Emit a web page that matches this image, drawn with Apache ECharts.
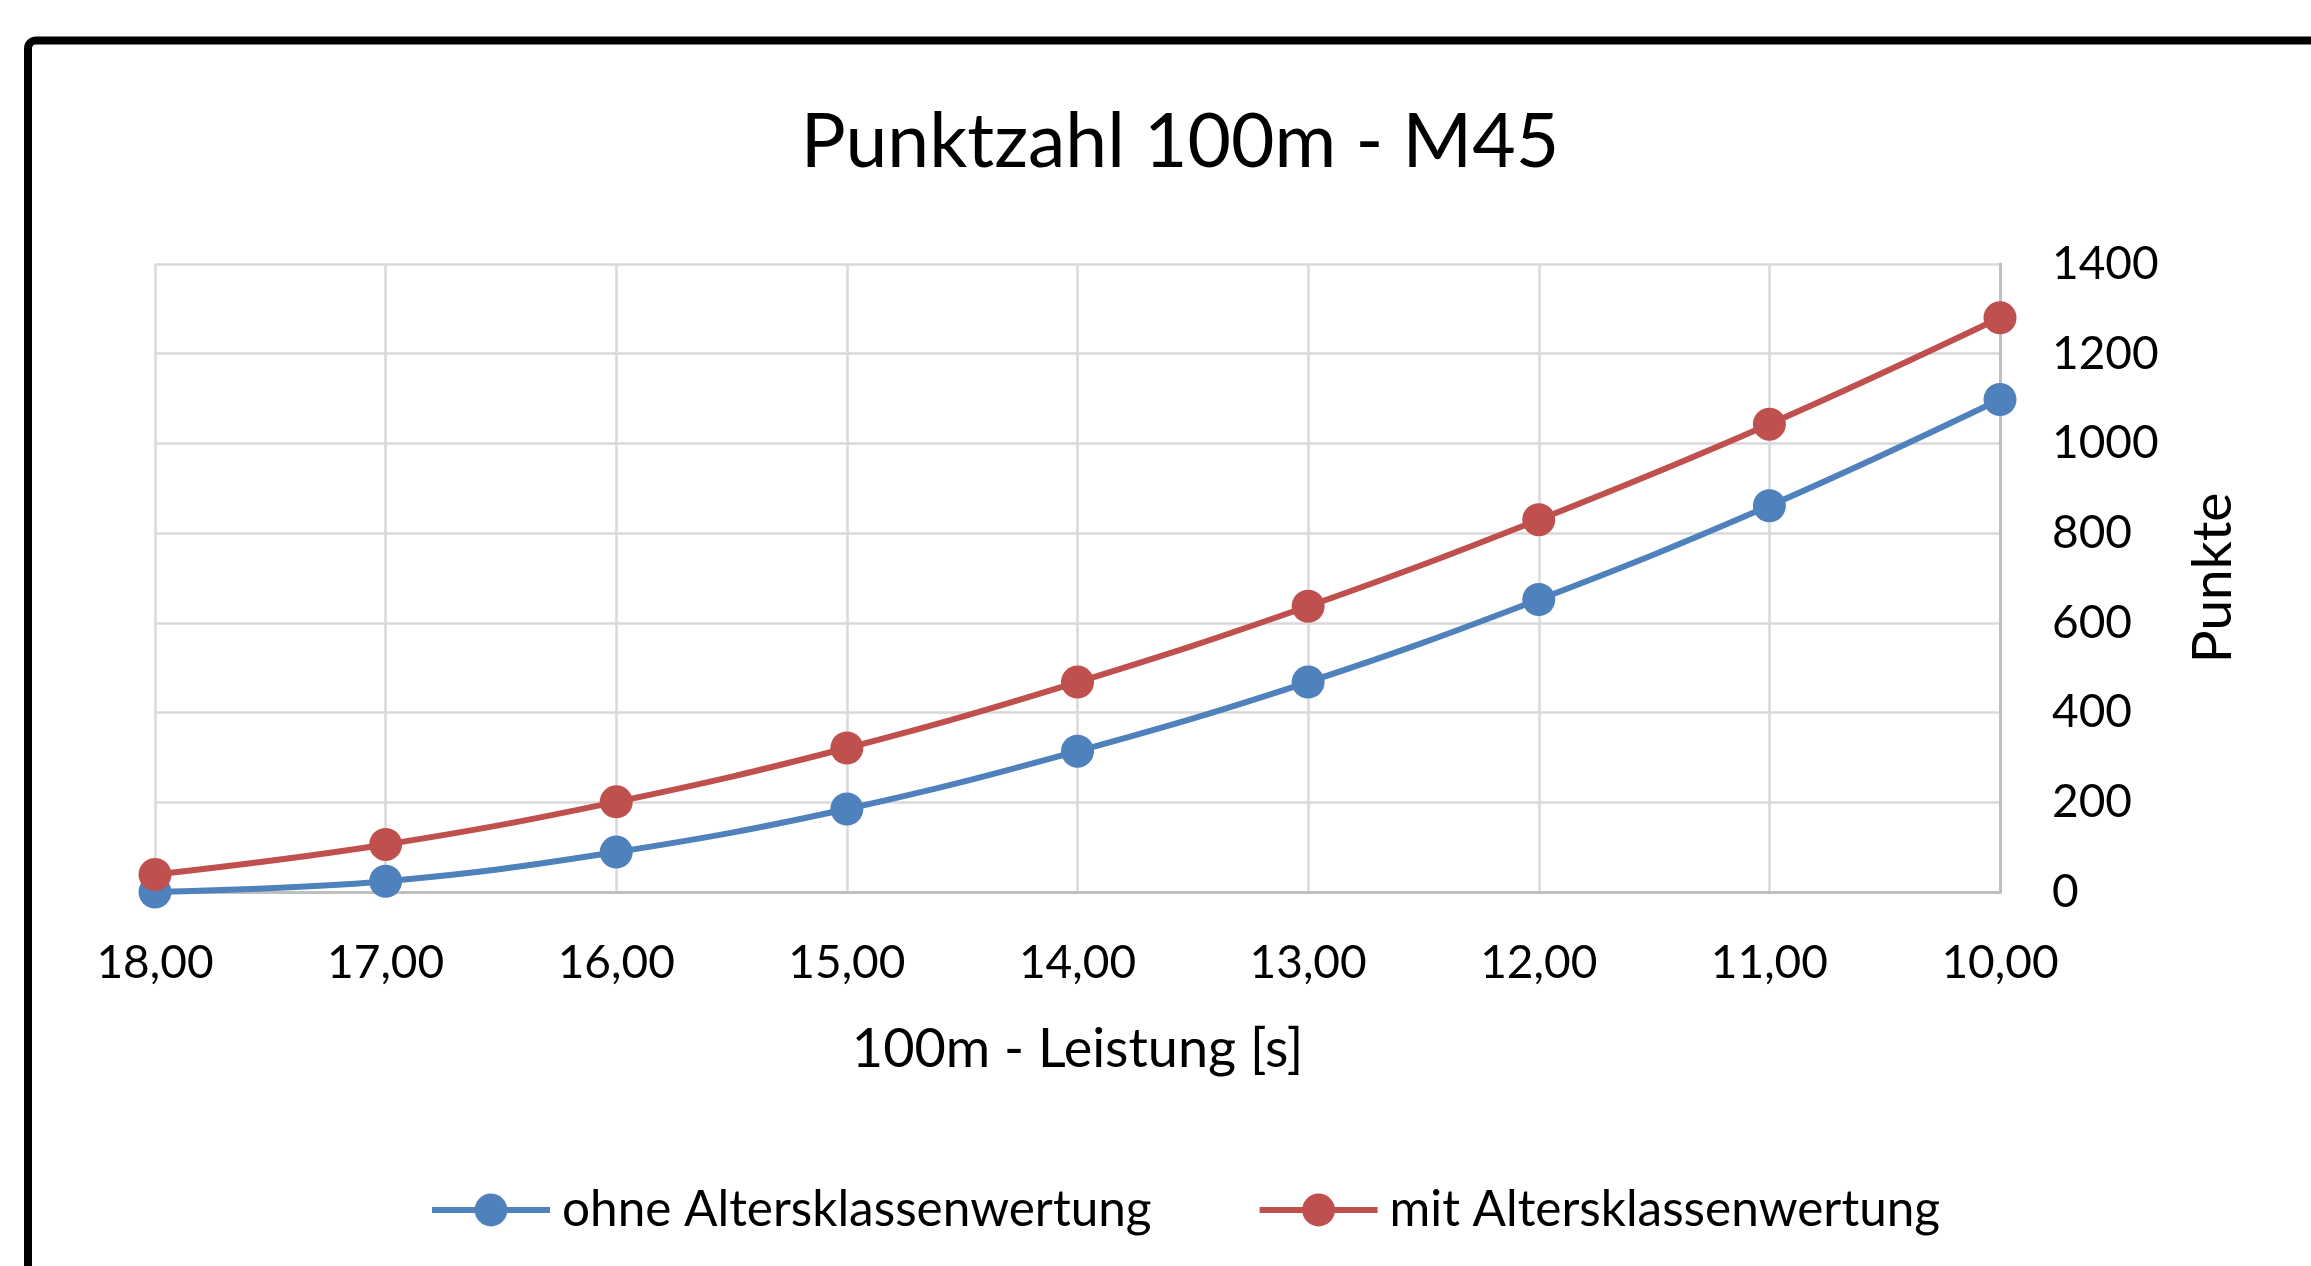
<!DOCTYPE html>
<html>
<head>
<meta charset="utf-8">
<script src="https://cdn.jsdelivr.net/npm/echarts@6/dist/echarts.min.js"></script>
<style>
html,body{margin:0;padding:0;background:#fff;overflow:hidden;}
#chart{width:2311px;height:1266px;}
</style>
</head>
<body>
<div id="chart"></div>
<script>
const categories = ['18,00','17,00','16,00','15,00','14,00','13,00','12,00','11,00','10,00'];
const ohneValues = [0, 24, 89, 185, 314, 468, 652, 861, 1098];
const mitValues = [39, 106, 201, 321, 468, 637, 830, 1043, 1280];
const seriesNames = ['ohne Altersklassenwertung', 'mit Altersklassenwertung'];
const titleText = 'Punktzahl 100m - M45';
const xAxisName = '100m - Leistung [s]';
const yAxisName = 'Punkte';

const FONT = 'Lato';
const chart = echarts.init(document.getElementById('chart'), null, {renderer: 'canvas'});
chart.setOption({
  backgroundColor: '#ffffff',
  animation: false,
  graphic: [{
    type: 'rect',
    shape: {x: 28, y: 40.5, width: 2500, height: 1500, r: 8},
    style: {fill: 'none', stroke: '#000000', lineWidth: 8},
    silent: true
  }],
  title: {
    text: titleText,
    left: 1175,
    textAlign: 'center',
    top: 100,
    textStyle: {fontFamily: FONT, fontSize: 75, fontWeight: 'normal', color: '#000'}
  },
  legend: {
    left: 424,
    top: 1180,
    itemWidth: 118,
    itemHeight: 41,
    itemGap: 105,
    lineStyle: {width: 6},
    textStyle: {fontFamily: FONT, fontSize: 49.5, color: '#000', padding: [0, 0, 0, 7]},
    data: seriesNames
  },
  grid: {left: 155, right: 311, top: 264, bottom: 374, containLabel: false},
  xAxis: {
    type: 'category',
    data: categories,
    boundaryGap: false,
    name: xAxisName,
    nameLocation: 'middle',
    nameGap: 131,
    nameTextStyle: {fontFamily: FONT, fontSize: 54, color: '#000'},
    axisLine: {lineStyle: {color: '#bfbfbf', width: 3}},
    axisTick: {show: false},
    axisLabel: {fontFamily: FONT, fontSize: 46, color: '#000', margin: 48},
    splitLine: {show: true, lineStyle: {color: '#d9d9d9', width: 2.5}}
  },
  yAxis: {
    type: 'value',
    position: 'right',
    min: 0,
    max: 1400,
    interval: 200,
    name: yAxisName,
    nameLocation: 'middle',
    nameRotate: 90,
    nameGap: 186,
    nameTextStyle: {fontFamily: FONT, fontSize: 55, color: '#000'},
    axisLine: {show: true, lineStyle: {color: '#bfbfbf', width: 3}},
    axisTick: {show: false},
    axisLabel: {fontFamily: FONT, fontSize: 46, color: '#000', margin: 52, formatter: function (v) { return String(v); }},
    splitLine: {show: true, lineStyle: {color: '#d9d9d9', width: 2.5}}
  },
  series: [
    {
      name: seriesNames[0],
      type: 'line',
      data: ohneValues,
      smooth: 0.4,
      clip: false,
      symbol: 'circle',
      symbolSize: 33,
      lineStyle: {color: '#4F81BD', width: 6},
      itemStyle: {color: '#4F81BD'}
    },
    {
      name: seriesNames[1],
      type: 'line',
      data: mitValues,
      smooth: 0.4,
      clip: false,
      symbol: 'circle',
      symbolSize: 33,
      lineStyle: {color: '#C0504D', width: 6},
      itemStyle: {color: '#C0504D'}
    }
  ]
});
</script>
</body>
</html>
